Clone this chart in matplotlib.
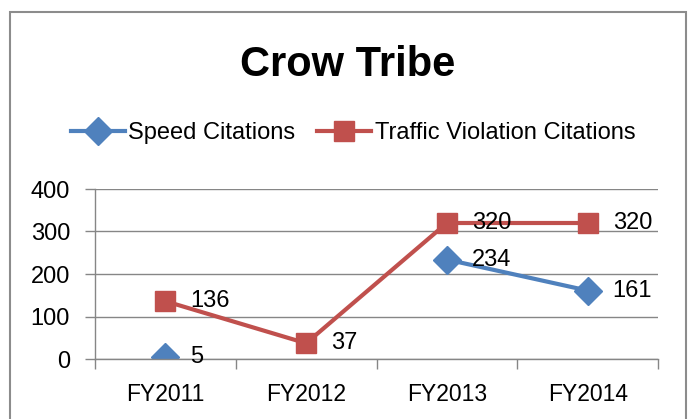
import matplotlib.pyplot as plt
import numpy as np
from matplotlib.patches import Rectangle

plt.rcParams['font.family'] = ['Liberation Sans', 'DejaVu Sans']

years = ["FY2011", "FY2012", "FY2013", "FY2014"]
speed = [5, np.nan, 234, 161]
traffic = [136, 37, 320, 320]

blue = "#4F81BD"
red = "#C0504D"


def main():
    fig = plt.figure(figsize=(6.91, 4.19), dpi=100)

    # outer chart border (cropped at the bottom like the original)
    fig.patches.append(Rectangle((10 / 691, -0.05), 676 / 691, 1.05 - 12 / 419,
                                 transform=fig.transFigure, fill=False,
                                 edgecolor="#8c8c8c", linewidth=1.5))

    ax = fig.add_axes([95 / 691, 1 - 359 / 419, 563 / 691, 170 / 419])
    x = np.arange(len(years))

    ax.plot(x, speed, color=blue, lw=3, marker="D", ms=14, label="Speed Citations")
    ax.plot(x, traffic, color=red, lw=3, marker="s", ms=14.5,
            label="Traffic Violation Citations")

    for xi, v in zip(x, speed):
        if not np.isnan(v):
            ax.annotate(f"{v:g}", (xi, v), xytext=(18, 0), textcoords="offset points",
                        va="center", ha="left", fontsize=17)
    for xi, v in zip(x, traffic):
        ax.annotate(f"{v:g}", (xi, v), xytext=(18, 0), textcoords="offset points",
                    va="center", ha="left", fontsize=17)

    ax.set_xlim(-0.5, 3.5)
    ax.set_ylim(0, 400)
    ax.set_yticks([0, 100, 200, 300, 400])
    ax.set_xticks(x)
    ax.set_xticklabels(years)
    ax.set_xticks([-0.5, 0.5, 1.5, 2.5, 3.5], minor=True)
    ax.tick_params(axis="x", which="major", length=0, pad=17, labelsize=16.5)
    ax.tick_params(axis="x", which="minor", length=7, color="#868686", width=1)
    ax.tick_params(axis="y", length=7, color="#868686", width=1, pad=11, labelsize=17)

    ax.grid(axis="y", color="#868686", lw=1)
    ax.set_axisbelow(True)
    for s in ["top", "right"]:
        ax.spines[s].set_visible(False)
    for s in ["left", "bottom"]:
        ax.spines[s].set_color("#868686")
        ax.spines[s].set_linewidth(1)

    fig.text(348 / 691, 1 - 65 / 419, "Crow Tribe", ha="center", va="center",
             fontsize=30, fontweight="bold")

    fig.legend(loc="center", bbox_to_anchor=(353 / 691, 1 - 133 / 419), ncol=2,
               frameon=False, fontsize=17, handlelength=2.3, handletextpad=0.15,
               columnspacing=0.9, borderaxespad=0)

    fig.savefig("out.png", dpi=100)


if __name__ == '__main__':
    main()
